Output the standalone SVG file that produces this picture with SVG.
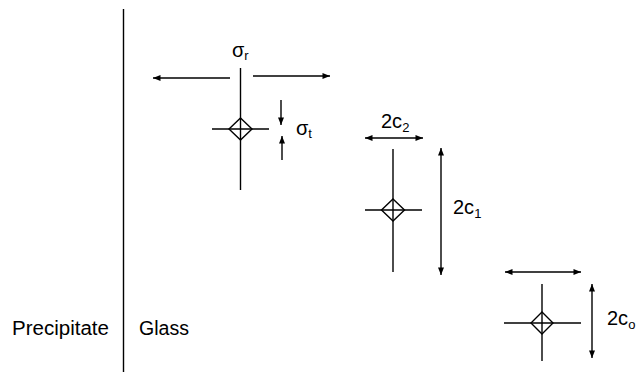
<svg xmlns="http://www.w3.org/2000/svg" width="642" height="372" viewBox="0 0 642 372">
<style>
.ln{stroke:#000;stroke-width:1.4;fill:none}
.ar{stroke:#000;stroke-width:1.4;fill:none;marker-end:url(#ah)}
.da{stroke:#000;stroke-width:1.4;fill:none;marker-start:url(#ahs);marker-end:url(#ah)}
.t{font-family:"Liberation Sans",Arial,sans-serif;font-size:20px;fill:#000}
.s{font-size:13px}
</style>
<defs>
<marker id="ah" viewBox="0 0 10 8" refX="10" refY="4" markerWidth="8" markerHeight="6" markerUnits="userSpaceOnUse" orient="auto"><path d="M0,0L10,4L0,8z" fill="#000"/></marker>
<marker id="ahs" viewBox="0 0 10 8" refX="0" refY="4" markerWidth="8" markerHeight="6" markerUnits="userSpaceOnUse" orient="auto"><path d="M10,0L0,4L10,8z" fill="#000"/></marker>
</defs>
<g id="divider"><line class="ln" x1="123.5" y1="9" x2="123.5" y2="372"/></g>
<g id="labels">
<text class="t" x="12" y="335" textLength="97" lengthAdjust="spacingAndGlyphs">Precipitate</text>
<text class="t" x="139" y="335" textLength="50" lengthAdjust="spacingAndGlyphs">Glass</text>
</g>
<g id="node1">
<line class="ln" x1="240.5" y1="68" x2="240.5" y2="190"/>
<line class="ln" x1="212" y1="129" x2="269" y2="129"/>
<path class="ln" d="M240.5,118L252,129L240.5,140L229,129z"/>
</g>
<g id="node2">
<line class="ln" x1="393" y1="149" x2="393" y2="272"/>
<line class="ln" x1="365" y1="210" x2="422" y2="210"/>
<path class="ln" d="M393,199L404.5,210L393,221L381.5,210z"/>
</g>
<g id="node3">
<line class="ln" x1="542" y1="284" x2="542" y2="361"/>
<line class="ln" x1="504" y1="323" x2="581" y2="323"/>
<path class="ln" d="M542,312L553,323L542,334L531,323z"/>
</g>
<g id="connectors">
<line class="ar" x1="230" y1="78" x2="153" y2="78"/>
<line class="ar" x1="253" y1="76" x2="330" y2="76"/>
<line class="ar" x1="281" y1="100" x2="281" y2="125"/>
<line class="ar" x1="282" y1="160" x2="282" y2="136"/>
<line class="da" x1="365" y1="138" x2="423" y2="138"/>
<line class="da" x1="441" y1="148" x2="441" y2="275"/>
<line class="da" x1="505" y1="272" x2="581" y2="272"/>
<line class="da" x1="592" y1="284" x2="592" y2="358"/>
</g>
<g id="symbols">
<text class="t" x="232" y="57" font-size="21">σ<tspan class="s" dy="3">r</tspan></text>
<text class="t" x="296" y="135" font-size="21">σ<tspan class="s" dy="3">t</tspan></text>
<text class="t" x="381" y="128" font-size="21">2c<tspan class="s" dy="4">2</tspan></text>
<text class="t" x="453" y="214" font-size="21">2c<tspan class="s" dy="4">1</tspan></text>
<text class="t" x="607" y="325" font-size="21">2c<tspan class="s" dy="4">o</tspan></text>
</g>
</svg>
